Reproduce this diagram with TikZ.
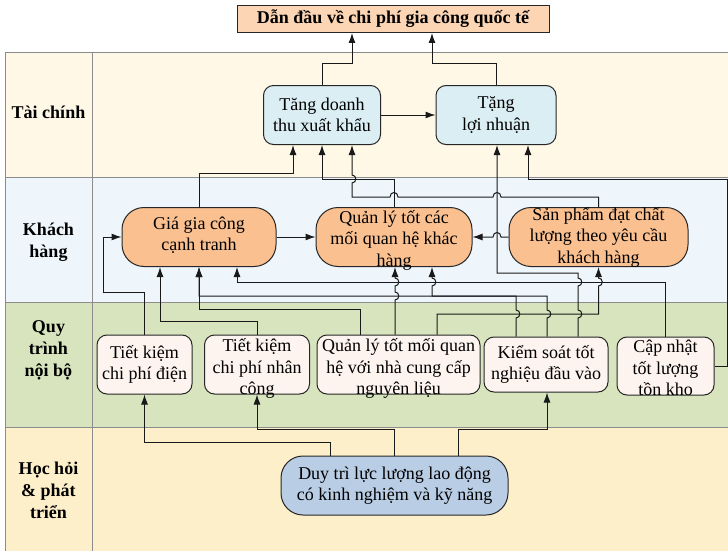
\documentclass[tikz,border=0pt]{standalone}
\usepackage{fontspec}
\setmainfont{Liberation Serif}
\usepackage{xcolor}
\usetikzlibrary{arrows.meta,positioning}
\definecolor{finRow}{RGB}{255,248,231}
\definecolor{cusRow}{RGB}{239,246,251}
\definecolor{intRow}{RGB}{215,228,190}
\definecolor{lrnRow}{RGB}{254,239,203}
\definecolor{finFill}{RGB}{219,238,244}
\definecolor{cusFill}{RGB}{250,192,144}
\definecolor{intFill}{RGB}{253,244,239}
\definecolor{lrnFill}{RGB}{185,205,229}
\definecolor{ttlFill}{RGB}{252,213,181}
\tikzset{vj/.style 2 args={insert path={-- (#1,#2+4) .. controls +(5,0) and +(5,0) .. (#1,#2-4)}},
         hj/.style 2 args={insert path={-- (#1+4,#2) .. controls +(0,-6) and +(0,-6) .. (#1-4,#2)}}}

\begin{document}
\begin{tikzpicture}[x=1pt,y=-1pt,
    arr/.style={-{Latex[length=10pt,width=7pt]},line width=1pt,black!90},
    gridline/.style={line width=1pt,black!45},
    lane/.style={font=\bfseries\fontsize{18}{22}\selectfont,align=center,inner sep=0pt},
    boxtext/.style={align=center,inner sep=0pt,font=\fontsize{18}{21.5}\selectfont},
    finbox/.style={draw=black!85,line width=1pt,fill=finFill,rounded corners=10pt,minimum height=59pt},
    cusbox/.style={draw=black!85,line width=1pt,fill=cusFill,rounded corners=22pt,minimum height=59pt},
    intbox/.style={draw=black!85,line width=1pt,fill=intFill,rounded corners=10pt,minimum height=59pt},
    lrnbox/.style={draw=black!85,line width=1pt,fill=lrnFill,rounded corners=22pt,minimum height=59pt}]
\useasboundingbox (0,0) rectangle (728,551);
\foreach \ya/\yb/\rowcol in {53/177/finRow,177/302/cusRow,302/427/intRow,427/551/lrnRow}
   \fill[\rowcol] (5,\ya) rectangle (728,\yb);
\draw[gridline] (728,53) -- (5,53) -- (5,551) (92,53) -- (92,551);
\foreach \yy in {177,302,427}
   \draw[gridline] (5,\yy) -- (728,\yy);

\node[lane] (TaiChinh) at (48.5,112) {Tài chính};
\node[lane] (KhachHang) at (48.5,242) {Khách\\hàng};
\node[lane] (QuyTrinh) at (48.5,350) {Quy\\trình\\nội bộ};
\node[lane] (HocHoi) at (48.5,490) {Học hỏi\\\& phát\\triển};

\node[draw=black!85,line width=1pt,fill=ttlFill,minimum width=312pt,minimum height=27pt,
      font=\bfseries\fontsize{18}{21}\selectfont] (Title) at (393,19) {Dẫn đầu về chi phí gia công quốc tế};

\node[finbox,minimum width=117pt] (TangDoanhThu) at (322,115) {};
\node[finbox,minimum width=120pt] (TangLoiNhuan) at (496,115) {};
\node[cusbox,minimum width=154pt] (GiaGiaCong) at (199,237) {};
\node[cusbox,minimum width=156pt] (QuanLyQH) at (394,237) {};
\node[cusbox,minimum width=179pt] (SanPham) at (598.5,237) {};
\node[intbox,minimum width=95pt] (TKDien) at (144.5,364.5) {};
\node[intbox,minimum width=105pt] (TKNhanCong) at (257,364.5) {};
\node[intbox,minimum width=163pt] (QuanLyNCC) at (398.5,364.5) {};
\node[intbox,minimum width=124pt,minimum height=55pt] (KiemSoat) at (546,364.5) {};
\node[intbox,minimum width=97pt,minimum height=58pt] (CapNhat) at (665.5,366) {};
\node[lrnbox,minimum width=227pt] (DuyTri) at (394.5,485.5) {};

\node[boxtext] (TangDoanhThuText) at (TangDoanhThu) {Tăng doanh\\thu xuất khẩu};
\node[boxtext] (TangLoiNhuanText) at (TangLoiNhuan) {Tặng\\lợi nhuận};
\node[boxtext] (GiaGiaCongText) at ([yshift=2pt]GiaGiaCong) {Giá gia công\\cạnh tranh};
\node[boxtext] (QuanLyQHText) at ([yshift=-3pt]QuanLyQH) {Quản lý tốt các\\mối quan hệ khác\\hàng};
\node[boxtext] (SanPhamText) at (SanPham) {Sản phẩm đạt chất\\lượng theo yêu cầu\\khách hàng};
\node[boxtext] (TKDienText) at (TKDien) {Tiết kiệm\\chi phí điện};
\node[boxtext] (TKNhanCongText) at ([yshift=-4pt]TKNhanCong) {Tiết kiệm\\chi phí nhân\\công};
\node[boxtext] (QuanLyNCCText) at ([yshift=-4pt]QuanLyNCC) {Quản lý tốt mối quan\\hệ với nhà cung cấp\\nguyên liệu};
\node[boxtext] (KiemSoatText) at (KiemSoat) {Kiểm soát tốt\\nghiệu đầu vào};
\node[boxtext] (CapNhatText) at ([yshift=-2pt]CapNhat) {Cập nhật\\tốt lượng\\tồn kho};
\node[boxtext] (DuyTriText) at (DuyTri) {Duy trì lực lượng lao động\\có kinh nghiệm và kỹ năng};

\draw[arr] (TangDoanhThu.north) |- (352,64) -- (352,0 |- Title.south);
\draw[arr] (TangLoiNhuan.north) |- (432,64) -- (432,0 |- Title.south);
\draw[arr] (TangDoanhThu.east) -- (TangLoiNhuan.west);
\draw[arr] (GiaGiaCong.north) |- (293,173) -- (293,0 |- TangDoanhThu.south);
\draw[arr] (QuanLyQH.north) |- (322,179) -- (TangDoanhThu.south);
\draw[arr] (SanPham.north) |- (501,197) [hj={497}{197}, hj={394}{197}] -- (352,197) [vj={352}{179}] -- (352,0 |- TangDoanhThu.south);
\draw[arr] (578,0 |- KiemSoat.north) [vj={578}{314}, vj={578}{282}] -- (578,273) -| (497,0 |- TangLoiNhuan.south);
\draw[arr] (CapNhat.east) -| (727,179) -| (528,0 |- TangLoiNhuan.south);

\draw[arr] (GiaGiaCong.east) -- (QuanLyQH.west);
\draw[arr] (SanPham.west) [hj={497}{237}] -- (QuanLyQH.east);
\draw[arr] (TKDien.north) |- (103,292) |- (GiaGiaCong.west);
\draw[arr] (TKNhanCong.north) |- (160,321) -- (160,0 |- GiaGiaCong.south);
\draw[arr] (360,0 |- QuanLyNCC.north) |- (199,309) -- (GiaGiaCong.south);
\draw[arr] (CapNhat.north) |- (237,282) -- (237,0 |- GiaGiaCong.south);
\draw[arr] (547,0 |- KiemSoat.north) [vj={547}{314}] -- (547,296) -- (199,296) -- (GiaGiaCong.south);
\draw[arr] (516,0 |- KiemSoat.north) [vj={516}{314}] -- (516,296) -- (432,296) [vj={432}{282}] -- (432,0 |- QuanLyQH.south);
\draw[arr] (437,0 |- QuanLyNCC.north) |- (598.5,314) [vj={598.5}{282}] -- (SanPham.south);
\draw[arr] (395,0 |- QuanLyNCC.north) [vj={395}{296}, vj={395}{282}] -- (395,0 |- QuanLyQH.south);

\draw[arr] (330,0 |- DuyTri.north) |- (144.5,442) -- (TKDien.south);
\draw[arr] (394,0 |- DuyTri.north) |- (257,429) -- (TKNhanCong.south);
\draw[arr] (458,0 |- DuyTri.north) |- (547,429) -- (547,0 |- KiemSoat.south);
\end{tikzpicture}
\end{document}
